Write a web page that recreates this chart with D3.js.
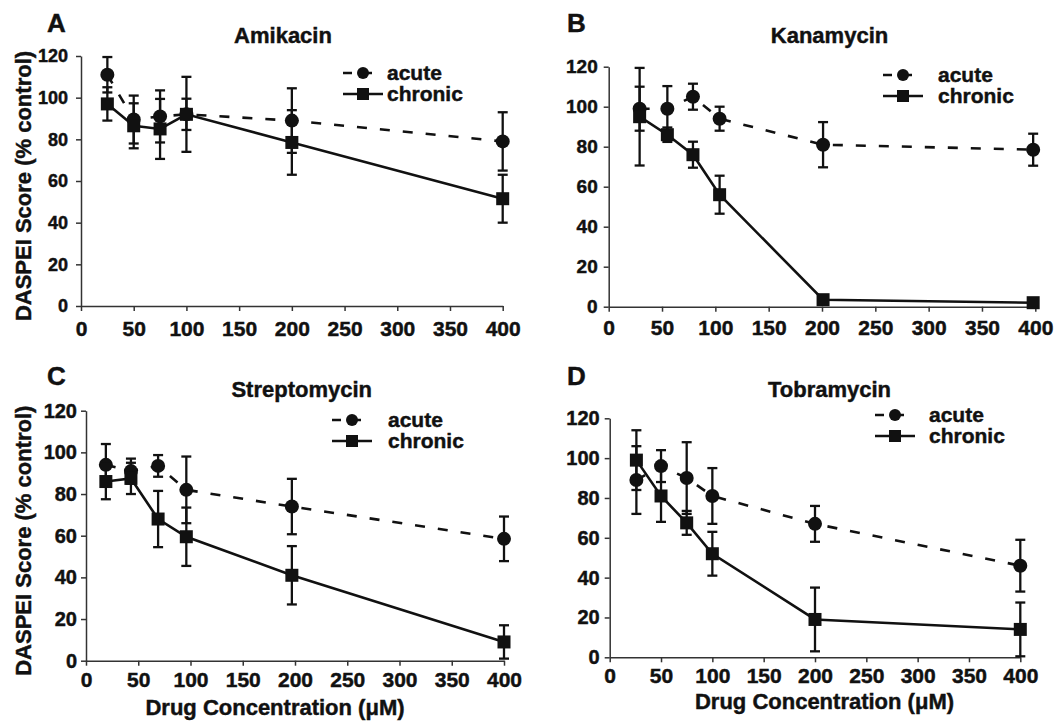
<!DOCTYPE html>
<html>
<head>
<meta charset="utf-8">
<script src="https://cdn.jsdelivr.net/npm/d3@7"></script>
<style>
  body { margin: 0; background: #fff; }
  text { font-family: Arial, "Liberation Sans", sans-serif; font-weight: bold; fill: #111; stroke: #111; stroke-width: 0.45px; }
</style>
</head>
<body>
<div class="canvas"></div>
<script>
// DATA ------------------------------------------------------------------------
const xTicks = [0, 50, 100, 150, 200, 250, 300, 350, 400];
const yTicks = [0, 20, 40, 60, 80, 100, 120];

const amikacinDose = [25, 50, 75, 100, 200, 400];
const amikacinAcute = [111, 89.5, 91, 92, 89, 79];
const amikacinAcuteErr = [8.5, 11.5, 12.5, 18, 15.5, 14];
const amikacinChronic = [97, 86.5, 85, 92, 78.5, 51.5];
const amikacinChronicErr = [8, 10.8, 14.4, 7.5, 15.5, 11.5];

const kanamycinDose = [29, 55, 79, 104, 201, 398];
const kanamycinAcute = [99, 99, 105, 94, 81, 78.5];
const kanamycinAcuteErr = [11, 11.3, 6.5, 6, 11.3, 8];
const kanamycinChronic = [95, 86, 76, 56, 3.5, 2];
const kanamycinChronicErr = [24.4, 3.6, 6.5, 9.5, 2, 1];

const streptomycinDose = [19, 43, 69, 96, 197, 400];
const streptomycinAcute = [94, 91, 93.5, 82, 74, 58.5];
const streptomycinAcuteErr = [10, 6, 5.2, 16, 13.3, 10.7];
const streptomycinChronic = [86, 87.5, 68, 59.5, 41, 9];
const streptomycinChronicErr = [8.5, 7.5, 13.5, 14, 14, 8];

const tobramycinDose = [26, 50, 75, 100, 200, 400];
const tobramycinAcute = [89, 96, 90, 81, 67, 46];
const tobramycinAcuteErr = [17, 8, 18, 14, 9, 13];
const tobramycinChronic = [99, 81, 67.5, 52, 19, 14];
const tobramycinChronicErr = [15, 13, 6, 11, 16, 13.5];

// PANELS (layout only) ------------------------------------------------------
const panels = [
    { letter: 'A', title: 'Amikacin', dose: amikacinDose,
      acute: amikacinAcute, acuteErr: amikacinAcuteErr, chronic: amikacinChronic, chronicErr: amikacinChronicErr,
      left: 81, right: 502.7, top: 56, bottom: 306, yFont: 18, yPad: 8, xPad: 10,
      letterPos: [47, 32], titlePos: [283, 43], legend: [343, 73], textX: 387, yLabel: true, xLabel: false },
    { letter: 'B', title: 'Kanamycin', dose: kanamycinDose,
      acute: kanamycinAcute, acuteErr: kanamycinAcuteErr, chronic: kanamycinChronic, chronicErr: kanamycinChronicErr,
      left: 608.7, right: 1035.3, top: 66.7, bottom: 306.7, yFont: 19, yPad: 6, xPad: 8,
      letterPos: [567, 32], titlePos: [829.5, 43], legend: [883, 75], textX: 938, yLabel: false, xLabel: false },
    { letter: 'C', title: 'Streptomycin', dose: streptomycinDose,
      acute: streptomycinAcute, acuteErr: streptomycinAcuteErr, chronic: streptomycinChronic, chronicErr: streptomycinChronicErr,
      left: 86, right: 504, top: 410.7, bottom: 660.7, yFont: 20, yPad: 4, xPad: 6,
      letterPos: [47, 385], titlePos: [301.7, 396.7], legend: [332, 420], textX: 388, yLabel: true, xLabel: true,
      xLabelPos: [275, 715] },
    { letter: 'D', title: 'Tobramycin', dose: tobramycinDose,
      acute: tobramycinAcute, acuteErr: tobramycinAcuteErr, chronic: tobramycinChronic, chronicErr: tobramycinChronicErr,
      left: 609.7, right: 1020.3, top: 418.3, bottom: 657.3, yFont: 20, yPad: 5, xPad: 6,
      letterPos: [567, 385], titlePos: [829.5, 396.7], legend: [875, 415], textX: 929, yLabel: false, xLabel: true,
      xLabelPos: [824.5, 709] }
];

// SET UP SVG ----------------------------------------------------------------
const svg = d3.select('.canvas')
    .append('svg')
        .attr('width', 1064)
        .attr('height', 721);

svg.append('rect').attr('width', 1064).attr('height', 721).attr('fill', '#fff');

const ink = '#111';

panels.forEach(p => {
    const x = d3.scaleLinear().domain([0, 400]).range([p.left, p.right]);
    const y = d3.scaleLinear().domain([0, 120]).range([p.bottom, p.top]);

    // Axes
    const xAxis = d3.axisBottom(x).tickValues(xTicks).tickSize(5).tickSizeOuter(0).tickPadding(p.xPad);
    const yAxis = d3.axisLeft(y).tickValues(yTicks).tickSize(5).tickSizeOuter(0).tickPadding(p.yPad);

    const xg = svg.append('g').attr('transform', `translate(0, ${p.bottom})`).call(xAxis);
    const yg = svg.append('g').attr('transform', `translate(${p.left}, 0)`).call(yAxis);

    [xg, yg].forEach(g => {
        g.selectAll('path, line').attr('stroke', '#333').attr('stroke-width', 1.5);
        g.selectAll('text').attr('fill', ink).style('font-weight', 'bold')
            .style('font-family', 'Arial, "Liberation Sans", sans-serif');
    });
    xg.selectAll('text').style('font-size', '21px');
    yg.selectAll('text').style('font-size', p.yFont + 'px');

    // Series
    const series = [
        { vals: p.acute, err: p.acuteErr, dash: '10,13', marker: 'circle' },
        { vals: p.chronic, err: p.chronicErr, dash: null, marker: 'square' }
    ];

    const line = d3.line().x(d => x(d.x)).y(d => y(d.y));

    series.forEach(s => {
        const pts = p.dose.map((d, i) => ({ x: d, y: s.vals[i], e: s.err[i] }));

        svg.append('path')
            .datum(pts)
            .attr('d', line)
            .attr('fill', 'none')
            .attr('stroke', ink)
            .attr('stroke-width', 2.6)
            .attr('stroke-dasharray', s.dash);

        // Error bars
        const eb = svg.append('g');
        eb.selectAll('line.v').data(pts).enter().append('line')
            .attr('x1', d => x(d.x)).attr('x2', d => x(d.x))
            .attr('y1', d => y(d.y - d.e)).attr('y2', d => y(d.y + d.e))
            .attr('stroke', ink).attr('stroke-width', 2.3);
        eb.selectAll('line.cap').data(pts.flatMap(d => [d.y - d.e, d.y + d.e].map(v => ({ x: d.x, v }))))
            .enter().append('line')
            .attr('x1', d => x(d.x) - 5).attr('x2', d => x(d.x) + 5)
            .attr('y1', d => y(d.v)).attr('y2', d => y(d.v))
            .attr('stroke', ink).attr('stroke-width', 2.3);

        // Markers
        if (s.marker === 'circle') {
            svg.selectAll(null).data(pts).enter().append('circle')
                .attr('cx', d => x(d.x)).attr('cy', d => y(d.y)).attr('r', 7)
                .attr('fill', ink);
        } else {
            svg.selectAll(null).data(pts).enter().append('rect')
                .attr('x', d => x(d.x) - 6.5).attr('y', d => y(d.y) - 6.5)
                .attr('width', 13).attr('height', 13)
                .attr('fill', ink);
        }
    });

    // Legend
    const [lx, ly] = p.legend;
    svg.append('line').attr('x1', lx).attr('x2', lx + 40).attr('y1', ly).attr('y2', ly)
        .attr('stroke', ink).attr('stroke-width', 2.6).attr('stroke-dasharray', '9,11');
    svg.append('circle').attr('cx', lx + 20).attr('cy', ly).attr('r', 6).attr('fill', ink);
    svg.append('line').attr('x1', lx).attr('x2', lx + 40).attr('y1', ly + 21).attr('y2', ly + 21)
        .attr('stroke', ink).attr('stroke-width', 2.6);
    svg.append('rect').attr('x', lx + 14).attr('y', ly + 15).attr('width', 12).attr('height', 12).attr('fill', ink);
    svg.append('text').attr('x', p.textX).attr('y', ly + 7).text('acute').style('font-size', '21px');
    svg.append('text').attr('x', p.textX).attr('y', ly + 28).text('chronic').style('font-size', '21px');

    // Titles
    svg.append('text').attr('x', p.letterPos[0]).attr('y', p.letterPos[1])
        .text(p.letter).style('font-size', '26px');
    svg.append('text').attr('x', p.titlePos[0]).attr('y', p.titlePos[1])
        .attr('text-anchor', 'middle').text(p.title).style('font-size', '22px');

    if (p.yLabel) {
        svg.append('text')
            .attr('transform', `translate(31, ${(p.top + p.bottom) / 2 + 5}) rotate(-90)`)
            .attr('text-anchor', 'middle')
            .text('DASPEI Score (% control)')
            .style('font-size', '22px');
    }
    if (p.xLabel) {
        svg.append('text')
            .attr('x', p.xLabelPos[0])
            .attr('y', p.xLabelPos[1])
            .attr('text-anchor', 'middle')
            .text('Drug Concentration (μM)')
            .style('font-size', '22px');
    }
});
</script>
</body>
</html>
